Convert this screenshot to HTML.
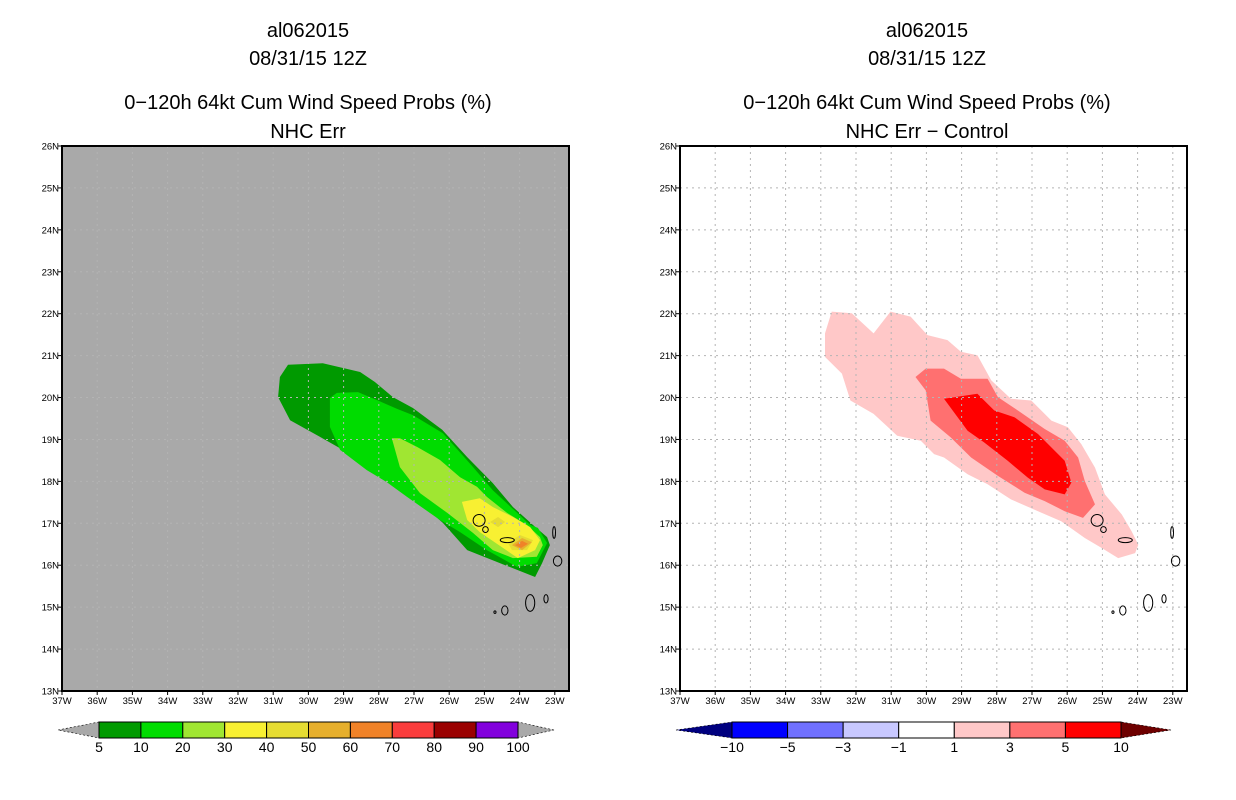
<!DOCTYPE html>
<html><head><meta charset="utf-8"><style>
html,body{margin:0;padding:0;background:#fff;}
svg{display:block;font-family:"Liberation Sans","DejaVu Sans",sans-serif;}
</style></head><body>
<svg id="c" width="1236" height="800" viewBox="0 0 1236 800" xmlns="http://www.w3.org/2000/svg"></svg>
<script>
// ---- data (lon in degrees W, lat in degrees N) ----
const lonTicks=[37,36,35,34,33,32,31,30,29,28,27,26,25,24,23];
const latTicks=[13,14,15,16,17,18,19,20,21,22,23,24,25,26];
const leftLevels=["5","10","20","30","40","50","60","70","80","90","100"];
const leftColors=["#009a00","#00dc00","#a0e632","#f8f032","#e6dc32","#e6af2d","#f08228","#fa3c3c","#9a0000","#8200dc"];
const rightLevels=["-10","-5","-3","-1","1","3","5","10"];
const rightColors=["#0000ff","#7070ff","#c8c8ff","#ffffff","#ffc8c8","#ff7070","#ff0000"];
const prob5=[[30.58,20.78],[29.59,20.82],[28.53,20.61],[28.11,20.37],[27.60,20.01],[27.03,19.75],[26.20,19.23],[25.49,18.58],[24.76,17.96],[24.19,17.39],[23.62,16.96],[23.22,16.67],[23.14,16.48],[23.36,16.05],[23.56,15.72],[24.56,16.05],[25.49,16.36],[26.18,17.01],[27.03,17.63],[27.77,18.03],[29.02,18.75],[29.67,19.06],[30.52,19.46],[30.86,20.01],[30.81,20.49]];
const prob10=[[29.39,19.99],[29.19,20.11],[28.59,20.13],[28.05,19.94],[27.48,19.73],[27.03,19.58],[26.18,19.15],[25.32,18.34],[24.76,17.79],[24.07,17.25],[23.70,16.96],[23.48,16.89],[23.22,16.53],[23.51,16.05],[24.07,15.96],[24.93,16.36],[25.69,16.79],[26.26,17.08],[27.20,17.63],[27.77,17.98],[28.34,18.27],[29.10,18.75],[29.39,19.30]];
const prob20=[[27.63,19.03],[27.40,19.03],[26.91,18.82],[26.26,18.51],[25.69,18.10],[25.21,17.87],[24.93,17.63],[24.36,17.25],[23.79,16.96],[23.42,16.67],[23.34,16.48],[23.51,16.20],[24.19,16.17],[24.76,16.36],[25.32,16.77],[26.06,17.25],[26.83,17.72],[27.40,18.34]];
const prob30=[[25.64,17.51],[25.13,17.60],[24.76,17.39],[24.19,17.15],[23.70,16.91],[23.42,16.60],[23.56,16.36],[24.05,16.17],[24.47,16.41],[25.13,16.79],[25.49,17.08]];
const prob40a=[[24.84,17.03],[24.61,17.15],[24.41,17.03],[24.61,16.91]];
const prob40b=[[24.33,16.53],[23.99,16.72],[23.62,16.60],[23.79,16.36],[24.22,16.36]];
const prob50=[[24.22,16.48],[23.93,16.65],[23.65,16.55],[23.93,16.36]];
const prob60=[[24.13,16.48],[23.93,16.58],[23.76,16.51],[23.96,16.41]];
const diff1=[[32.69,22.05],[32.12,22.01],[31.50,21.53],[31.02,22.05],[30.45,21.93],[29.97,21.49],[29.40,21.37],[29.02,21.09],[28.55,21.01],[28.16,20.41],[27.60,19.97],[27.02,19.93],[26.45,19.45],[25.98,19.29],[25.60,18.89],[25.21,18.33],[24.93,17.69],[24.45,17.21],[24.17,16.81],[23.98,16.49],[24.07,16.29],[24.55,16.17],[25.02,16.41],[25.50,16.65],[26.17,17.05],[26.83,17.29],[27.60,17.57],[28.26,17.93],[28.83,18.17],[29.50,18.57],[29.78,18.65],[30.16,18.97],[30.83,19.09],[31.50,19.61],[32.16,19.93],[32.40,20.57],[32.88,20.97],[32.88,21.53]];
const diff3=[[30.31,20.49],[30.02,20.69],[29.50,20.69],[29.02,20.45],[28.26,20.45],[27.97,20.01],[27.40,19.69],[26.64,19.25],[26.07,18.97],[25.69,18.57],[25.50,18.01],[25.21,17.45],[25.55,17.13],[26.07,17.29],[26.64,17.53],[27.21,17.73],[27.97,18.13],[28.73,18.57],[29.31,19.05],[29.88,19.45],[30.02,20.17]];
const diff10=[[29.50,19.97],[28.55,20.09],[28.07,19.69],[27.50,19.53],[26.83,19.13],[26.07,18.49],[25.88,17.97],[26.07,17.69],[26.64,17.81],[27.12,18.09],[27.69,18.49],[28.36,18.93],[28.83,19.21]];
// Cape Verde islands [lonW, lat, rx(deg), ry(deg)]
const islands=[[25.15,17.07,0.17,0.14],[24.97,16.85,0.08,0.07],[24.35,16.6,0.2,0.06],[23.02,16.78,0.04,0.14],[22.92,16.1,0.12,0.12],[23.7,15.1,0.13,0.2],[23.25,15.2,0.06,0.1],[24.42,14.92,0.09,0.11],[24.7,14.88,0.03,0.03]];

const NS="http://www.w3.org/2000/svg";
const svg=document.getElementById('c');
function mk(tag,attrs,parent){const e=document.createElementNS(NS,tag);for(const k in attrs)e.setAttribute(k,attrs[k]);(parent||svg).appendChild(e);return e;}
const PW=507,PH=545,PY=146;
function xs(ox){return lon=>ox+(37-lon)*35.2;}
function ys(lat){return PY+(26-lat)*(PH/13);}
function txt(x,y,s,size,anchor,parent){const t=mk('text',{x:x,y:y,'font-size':size,'text-anchor':anchor||'middle',fill:'#000'},parent);t.textContent=s;return t;}

function panel(ox,cx,sub,bg,layers,tag){
  const g=mk('g',{});
  
  
  const X=xs(ox);
  let t=txt(cx,37,'al062015',20,'middle',g);
  t=txt(cx,65,'08/31/15 12Z',20,'middle',g);
  t=txt(cx,109,'0\u2212120h 64kt Cum Wind Speed Probs (%)',20,'middle',g);
  t=txt(cx,138,sub,20,'middle',g);
  const r=mk('rect',{x:ox,y:PY,width:PW,height:PH,fill:bg},g);
  
  for(const L of layers){
    const p=mk('polygon',{points:L.pts.map(q=>X(q[0]).toFixed(1)+','+ys(q[1]).toFixed(1)).join(' '),fill:L.c},g);
    
  }
  for(const lon of lonTicks){const l=mk('line',{x1:X(lon),x2:X(lon),y1:PY,y2:PY+PH,stroke:'#b4b4b4','stroke-dasharray':'2,4','stroke-width':1},g);}
  for(const lat of latTicks){const l=mk('line',{x1:ox,x2:ox+PW,y1:ys(lat),y2:ys(lat),stroke:'#b4b4b4','stroke-dasharray':'2,4','stroke-width':1},g);}
  for(const is of islands){const e=mk('ellipse',{cx:X(is[0]),cy:ys(is[1]),rx:is[2]*35.2,ry:is[3]*41.9,fill:'none',stroke:'#000','stroke-width':1},g);}
  const f=mk('rect',{x:ox,y:PY,width:PW,height:PH,fill:'none',stroke:'#000','stroke-width':2},g);
  
  for(const lat of latTicks){mk('line',{x1:ox-4,x2:ox,y1:ys(lat),y2:ys(lat),stroke:'#000'},g);
    const tt=txt(ox-3,ys(lat)+3.5,lat+'N',9.5,'end',g);}
  for(const lon of lonTicks){mk('line',{x1:X(lon),x2:X(lon),y1:PY+PH,y2:PY+PH+4,stroke:'#000'},g);
    const tt=txt(X(lon),PY+PH+13,lon+'W',9.5,'middle',g);}
  return g;
}
panel(62,308,'NHC Err','#a9a9a9',[
 {pts:prob5,c:leftColors[0],n:'contour-5pct'},{pts:prob10,c:leftColors[1],n:'contour-10pct'},
 {pts:prob20,c:leftColors[2],n:'contour-20pct'},{pts:prob30,c:leftColors[3],n:'contour-30pct'},
 {pts:prob40a,c:leftColors[4],n:'contour-40pct'},{pts:prob40b,c:leftColors[4],n:'contour-40pct'},
 {pts:prob50,c:leftColors[5],n:'contour-50pct'},{pts:prob60,c:leftColors[6],n:'contour-60pct'}],'left');
panel(680,927,'NHC Err \u2212 Control','#ffffff',[
 {pts:diff1,c:rightColors[4],n:'diff-1pct'},{pts:diff3,c:rightColors[5],n:'diff-3pct'},{pts:diff10,c:rightColors[6],n:'diff-5pct'}],'right');

function colorbar(x0,x1,tip0,tip1,colors,labels,lowC,highC,name){
  const g=mk('g',{});
  
  const y0=722,y1=738,ym=730,w=(x1-x0)/colors.length;
  mk('polygon',{points:`${tip0},${ym} ${x0},${y0} ${x0},${y1}`,fill:lowC,stroke:'#000','stroke-width':0.6,'stroke-dasharray':'2,2'},g);
  mk('polygon',{points:`${tip1},${ym} ${x1},${y0} ${x1},${y1}`,fill:highC,stroke:'#000','stroke-width':0.6,'stroke-dasharray':'2,2'},g);
  colors.forEach((c,i)=>{const r=mk('rect',{x:x0+i*w,y:y0,width:w,height:y1-y0,fill:c,stroke:'#000','stroke-width':1},g);
    });
  labels.forEach((s,i)=>{const t=txt(x0+i*w,752,s.replace('-','\u2212'),14,'middle',g);
    });
}
colorbar(99,518,58,554,leftColors.slice(0,10),leftLevels,'#a9a9a9','#a9a9a9','left-colorbar');
const rc=rightColors.slice(0,7);
colorbar(732,1121,676,1171,rc,rightLevels.slice(0,8),'#00007f','#6e0000','right-colorbar');
</script>
</body></html>
